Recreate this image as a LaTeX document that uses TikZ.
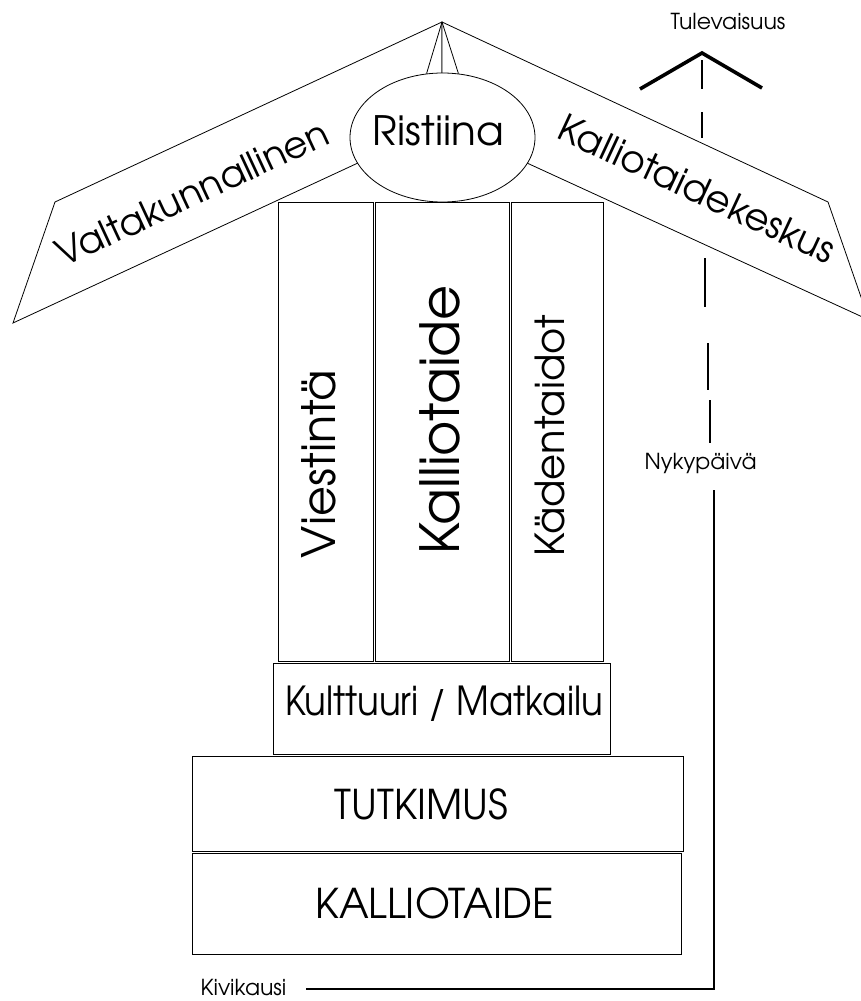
\documentclass[tikz,border=0pt]{standalone}
\usepackage{fontspec}
\setmainfont{TeX Gyre Adventor}
\usetikzlibrary{shapes.geometric}
\begin{document}
\begin{tikzpicture}[x=1pt,y=-1pt,
  roofline/.style={draw, line width=0.8pt, fill=white, line join=miter},
  boxline/.style={draw, line width=1pt, inner sep=0pt, outer sep=0pt, fill=white},
  lbl/.style={inner sep=0pt, outer sep=0pt},
  timeline/.style={line width=2.6pt},
  dashseg/.style={line width=2.6pt},
  chev/.style={line width=3.6pt, line join=miter}]
\useasboundingbox (0,0) rectangle (861,1001);
\clip (0,0) rectangle (861,1001);

% roof
\coordinate (apex) at (442,22);
\coordinate (lb) at (55,202);
\coordinate (lc) at (13,323);
\coordinate (mid) at (442,124);
\coordinate (rb) at (828,202);
\coordinate (rc) at (869,320);
\draw[roofline] (apex) -- (lb) -- (lc) -- (mid) -- cycle;
\draw[roofline] (apex) -- (rb) -- (rc) -- (mid) -- cycle;

\node[draw, ellipse, line width=0.8pt, fill=white, minimum width=185, minimum height=129, inner sep=0pt] (ell) at (442.5,137.5) {};
\draw[line width=0.8pt] (apex) -- (ell.104);
\draw[line width=0.8pt] (apex) -- (ell.76);

\node[lbl, anchor=base, font=\fontsize{40.5}{40}\selectfont] (ristiina) at (438.5,145) {Ristiina};
\node[lbl, rotate=25, font=\fontsize{37}{37}\selectfont] (valta) at (192,193) {Valtakunnallinen};
\node[lbl, rotate=-25, font=\fontsize{37.5}{37}\selectfont] (keskus) at (697,189) {Kalliotaidekeskus};

% columns
\node[boxline, anchor=north west, minimum width=95, minimum height=459] (col1) at (278,202) {};
\node[boxline, anchor=north west, minimum width=134, minimum height=459] (col2) at (375,202) {};
\node[boxline, anchor=north west, minimum width=92, minimum height=459] (col3) at (511,202) {};
\node[lbl, anchor=base, rotate=90, font=\fontsize{46}{46}\selectfont] (viest) at (335,464) {Viestintä};
\node[lbl, anchor=base, rotate=90, font=\fontsize{54}{54}\selectfont] (kallio) at (459,420) {Kalliotaide};
\node[lbl, anchor=base, rotate=90, font=\fontsize{40}{40}\selectfont] (kaden) at (564,436) {Kädentaidot};

% base boxes
\node[boxline, anchor=north west, minimum width=337, minimum height=91] (kult) at (273,663) {};
\node[boxline, anchor=north west, minimum width=491, minimum height=95] (tutk) at (192,756) {};
\node[boxline, anchor=north west, minimum width=489, minimum height=101] (kall) at (192,853) {};
\node[lbl, anchor=base, font=\fontsize{40}{40}\selectfont] (kulttxt) at (444,715) {\scalebox{0.89}[1]{Kulttuuri / Matkailu}};
\node[lbl, anchor=base, font=\fontsize{41}{41}\selectfont] (tutktxt) at (421.5,819) {\scalebox{0.96}[1]{TUTKIMUS}};
\node[lbl, anchor=base, font=\fontsize{41}{41}\selectfont] (kalltxt) at (434.5,918) {\scalebox{0.98}[1]{KALLIOTAIDE}};

% timeline
\node[lbl, anchor=base, font=\fontsize{22}{22}\selectfont] (kivi) at (243.5,995) {Kivikausi};
\node[lbl, anchor=base, font=\fontsize{22}{22}\selectfont] (nyky) at (700.5,469) {Nykypäivä};
\node[lbl, anchor=base, font=\fontsize{22}{22}\selectfont] (tule) at (728,29) {Tulevaisuus};
\coordinate (tstart) at (306,989);
\coordinate (tcorner) at (714,989);
\coordinate (ttop) at (714,490);
\draw[timeline] (tstart) -- (tcorner) -- (ttop);

\draw[dashseg] (702,60) -- (702,89);
\draw[dashseg] (702,112) -- (702,138);
\draw[dashseg] (705,258) -- (705,307);
\draw[dashseg] (708,343) -- (708,390);
\draw[dashseg] (710,400) -- (710,443);

\coordinate (chl) at (640,89);
\coordinate (chtop) at (702,53);
\coordinate (chr) at (762,88);
\draw[chev] (chl) -- (chtop) -- (chr);
\end{tikzpicture}
\end{document}
